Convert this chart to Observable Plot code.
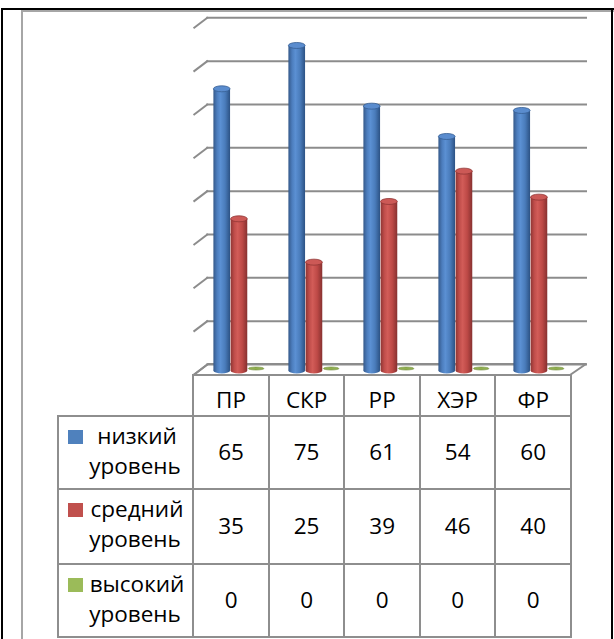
<!DOCTYPE html>
<html>
<head>
<meta charset="utf-8">
<script src="https://cdn.jsdelivr.net/npm/d3@7"></script>
<script src="https://cdn.jsdelivr.net/npm/@observablehq/plot@0.6"></script>
<style>
  html, body { margin: 0; padding: 0; background: #fff; overflow: hidden; }
  #wrap { position: relative; width: 614px; height: 639px; overflow: hidden; font-family: "Open Sans", sans-serif; }
  #wrap svg { position: absolute; left: 0; top: 0; }
  .ln { position: absolute; background: #8e8e8e; }
  .tx { position: absolute; font-size: 22.5px; line-height: 22.5px; color: #000; text-align: center; white-space: nowrap; }
  .key { position: absolute; width: 14.5px; height: 14.5px; }
</style>
</head>
<body>
<div id="wrap"></div>
<script>
// ---- data ----
const categories = ["ПР", "СКР", "РР", "ХЭР", "ФР"];
const seriesLabels = [["низкий", "уровень"], ["средний", "уровень"], ["высокий", "уровень"]];
const low = [65, 75, 61, 54, 60];
const mid = [35, 25, 39, 46, 40];
const high = [0, 0, 0, 0, 0];
const gridTicks = [0, 10, 20, 30, 40, 50, 60, 70, 80];

const seriesValues = [low, mid, high];
const keyColors = ["#4f81bd", "#c0504d", "#9bbb59"];
const rows = seriesValues.flatMap((vals, s) => vals.map((v, i) => ({cat: categories[i], s, v})));

// ---- layout / style constants ----
const W = 614, H = 380;
const mLeft = 193.3, mRight = 43, mTop = 23.8, mBottom = 9.5;
const barOff = 18.4, barW = 17.2;
const bw = (W - mRight - mLeft) / categories.length;

const gradDefs = [
  {id: "gB", stops: [[0, "#35598a"], [0.22, "#4c7dbd"], [0.42, "#5b90d3"], [0.7, "#4a7cbb"], [1, "#2c5284"]]},
  {id: "gR", stops: [[0, "#8f3533"], [0.22, "#bf4d4a"], [0.42, "#d25c58"], [0.7, "#bd4946"], [1, "#873130"]]},
  {id: "gG", stops: [[0, "#7f9d45"], [0.4, "#9bbb59"], [1, "#6d8a36"]]}
];
const topFill = ["#5a8cce", "#cc5956", "#8fae4f"];
const topStroke = ["#365e93", "#8f3533", "#6d8a36"];

const defsMark = () => {
  const defs = d3.create("svg:defs");
  for (const g of gradDefs) {
    const lg = defs.append("linearGradient").attr("id", g.id).attr("x1", 0).attr("x2", 1).attr("y1", 0).attr("y2", 0);
    for (const [o, c] of g.stops) lg.append("stop").attr("offset", o).attr("stop-color", c);
  }
  return defs.node();
};

const floorMark = (index, {x, y}) => {
  const x0 = x(categories[0]);
  const x1 = x(categories[categories.length - 1]) + x.bandwidth();
  const yb = y(0) - 6.5, yf = y(0) + 4.5;
  return d3.create("svg:polygon")
    .attr("points", [[x0 - 1.5, yf], [x0 + 13, yb], [x1 + 16, yb], [x1, yf]].map(p => p.join(",")).join(" "))
    .attr("fill", "#fff").attr("stroke", "#8c8c8c").attr("stroke-width", 2).attr("stroke-linejoin", "round")
    .node();
};

const diagMark = (index, {x, y}) => {
  const g = d3.create("svg:g").attr("stroke", "#8c8c8c").attr("stroke-width", 2).attr("fill", "none");
  const x0 = x(categories[0]);
  for (const t of gridTicks) {
    g.append("line").attr("x1", x0 - 1.5).attr("y1", y(t) + 4.5).attr("x2", x0 + 13).attr("y2", y(t) - 6.5);
  }
  return g.node();
};

const seriesMarks = [0, 1, 2].flatMap(s => {
  const data = rows.filter(d => d.s === s);
  const insetLeft = barOff + s * barW;
  const insetRight = bw - barOff - (s + 1) * barW;
  const fill = `url(#${gradDefs[s].id})`;
  const out = [];
  if (s < 2) {
    out.push(Plot.barY(data, {x: "cat", y1: d => 0, y2: d => 0, insetLeft, insetRight, insetTop: -3, insetBottom: -3, rx: barW / 2, ry: 3, fill}));
    out.push(Plot.barY(data, {x: "cat", y1: d => 0, y2: "v", insetLeft, insetRight, fill}));
    out.push(Plot.barY(data, {x: "cat", y1: "v", y2: "v", insetLeft, insetRight, insetTop: -3, insetBottom: -3, rx: barW / 2, ry: 3, fill: topFill[s], stroke: topStroke[s], strokeWidth: 0.8}));
  } else {
    out.push(Plot.barY(data, {x: "cat", y1: "v", y2: "v", insetLeft: insetLeft + 0.5, insetRight: insetRight + 0.5, insetTop: -3.5, insetBottom: 0.5, rx: barW / 2, ry: 2, fill: topFill[s], stroke: topStroke[s], strokeWidth: 0.6}));
  }
  return out;
});

const chart = Plot.plot({
  width: W,
  height: H,
  marginLeft: mLeft,
  marginRight: mRight,
  marginTop: mTop,
  marginBottom: mBottom,
  style: {background: "transparent", overflow: "visible"},
  x: {type: "band", domain: categories, padding: 0, axis: null},
  y: {domain: [0, 80], axis: null},
  marks: [
    defsMark,
    floorMark,
    Plot.ruleY(gridTicks, {dy: -6.5, insetLeft: 13, insetRight: -16, stroke: "#8c8c8c", strokeWidth: 2}),
    diagMark,
    ...seriesMarks
  ]
});

const wrap = document.getElementById("wrap");
wrap.appendChild(chart);

// ---- data table (HTML) ----
const xs = chart.scale("x");
const r0 = xs.range[0], r1 = xs.range[1];
const step = (r1 - r0) / categories.length;
const colEdges = d3.range(categories.length + 1).map(i => r0 + i * step);
const labelLeft = 58.3;
const headerTop = 375;
const rowEdges = [416, 489.3, 564, 637];

function line(x, y, w, h, color) {
  const d = document.createElement("div");
  d.className = "ln";
  Object.assign(d.style, {left: x + "px", top: y + "px", width: w + "px", height: h + "px"});
  if (color) d.style.background = color;
  wrap.appendChild(d);
}
function text(str, cx, baseline, w) {
  const d = document.createElement("div");
  d.className = "tx";
  d.textContent = str;
  Object.assign(d.style, {left: (cx - w / 2) + "px", width: w + "px", top: (baseline - 20) + "px"});
  wrap.appendChild(d);
}

// horizontal lines
line(colEdges[0] - 1, headerTop - 1, r1 - colEdges[0] + 2, 2);
for (const y of rowEdges) line(labelLeft - 1, y - 1, r1 - labelLeft + 2, 2);
// vertical lines
line(labelLeft - 1, rowEdges[0] - 1, 2, rowEdges[3] - rowEdges[0] + 2);
for (const x of colEdges) line(x - 1, headerTop - 1, 2, rowEdges[3] - headerTop + 2);

// header
categories.forEach((c, i) => text(c, colEdges[i] + step / 2, 409, step));
// rows
seriesValues.forEach((vals, s) => {
  const top = rowEdges[s], bottom = rowEdges[s + 1];
  const mid = (top + bottom) / 2;
  const k = document.createElement("div");
  k.className = "key";
  Object.assign(k.style, {left: "68.3px", top: (top + 13.5) + "px", background: keyColors[s]});
  wrap.appendChild(k);
  text(seriesLabels[s][0], 137, top + 29, 110);
  text(seriesLabels[s][1], 135, top + 59, 110);
  vals.forEach((v, i) => text(String(v), colEdges[i] + step / 2, mid + 8.5, step));
});

// ---- outer frame ----
line(21, 10, 593, 2, "#a6a6a6");
line(21, 10, 2, 629, "#a6a6a6");
line(1, 8, 613, 2, "#000");
line(1, 8, 2, 631, "#000");
line(611, 8, 2, 631, "#000");
</script>
</body>
</html>
